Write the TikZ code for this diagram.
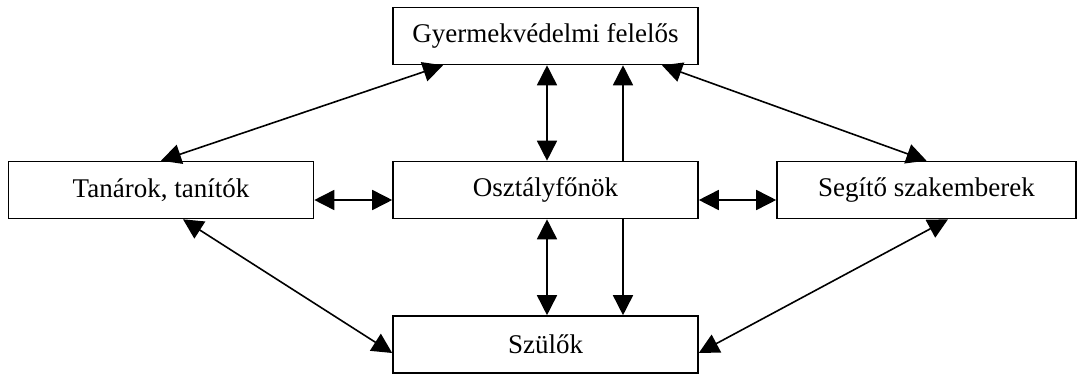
\documentclass[tikz,border=0pt]{standalone}
\usepackage{fontspec}
\setmainfont{Liberation Serif}
\usetikzlibrary{arrows.meta}
\tikzset{
  box/.style={draw, line width=1.6pt, minimum width=305pt, minimum height=57pt,
    inner sep=0pt, font=\fontsize{27}{32}\selectfont},
  link/.style={line width=1.6pt, {Triangle[length=20pt,width=20pt]}-{Triangle[length=20pt,width=20pt]}},
  uplink/.style={line width=1.6pt, -{Triangle[length=20pt,width=20pt]}}
}
\begin{document}
\begin{tikzpicture}[x=1pt,y=-1pt]
      \useasboundingbox (0,0) rectangle (1078,374);
      \node[box] (gyv) at (545.5,36) {Gyermekvédelmi felelős};
      \node[box] (tan) at (161,190) {Tanárok, tanítók};
      \node[box] (osz) at (545.5,190) {Osztályfőnök};
      \node[box, minimum width=299pt] (seg) at (926.5,190) {Segítő szakemberek};
      \node[box] (szu) at (545.5,344.5) {Szülők};
      \begin{scope}
        \draw[link] ([xshift=-102.5pt]gyv.south) -- (tan.north);
        \draw[link] ([xshift=116.5pt]gyv.south) -- (seg.north);
        \draw[link] ([xshift=1.5pt]osz.north) -- ([xshift=1.5pt]gyv.south);
        \draw[uplink] ([xshift=77.5pt]osz.north) -- ([xshift=77.5pt]gyv.south);
        \draw[link] ([yshift=-10pt]tan.east) -- ([yshift=-10pt]osz.west);
        \draw[link] ([yshift=-10pt]osz.east) -- ([yshift=-10pt]seg.west);
        \draw[link] ([xshift=1.5pt]osz.south) -- ([xshift=1.5pt]szu.north);
        \draw[uplink] ([xshift=77.5pt]osz.south) -- ([xshift=77.5pt]szu.north);
        \draw[link] ([xshift=22pt]tan.south) -- ([yshift=-8.5pt]szu.west);
        \draw[link] ([xshift=21.5pt]seg.south) -- ([yshift=-8.5pt]szu.east);
      \end{scope}
    \end{tikzpicture}
\end{document}
